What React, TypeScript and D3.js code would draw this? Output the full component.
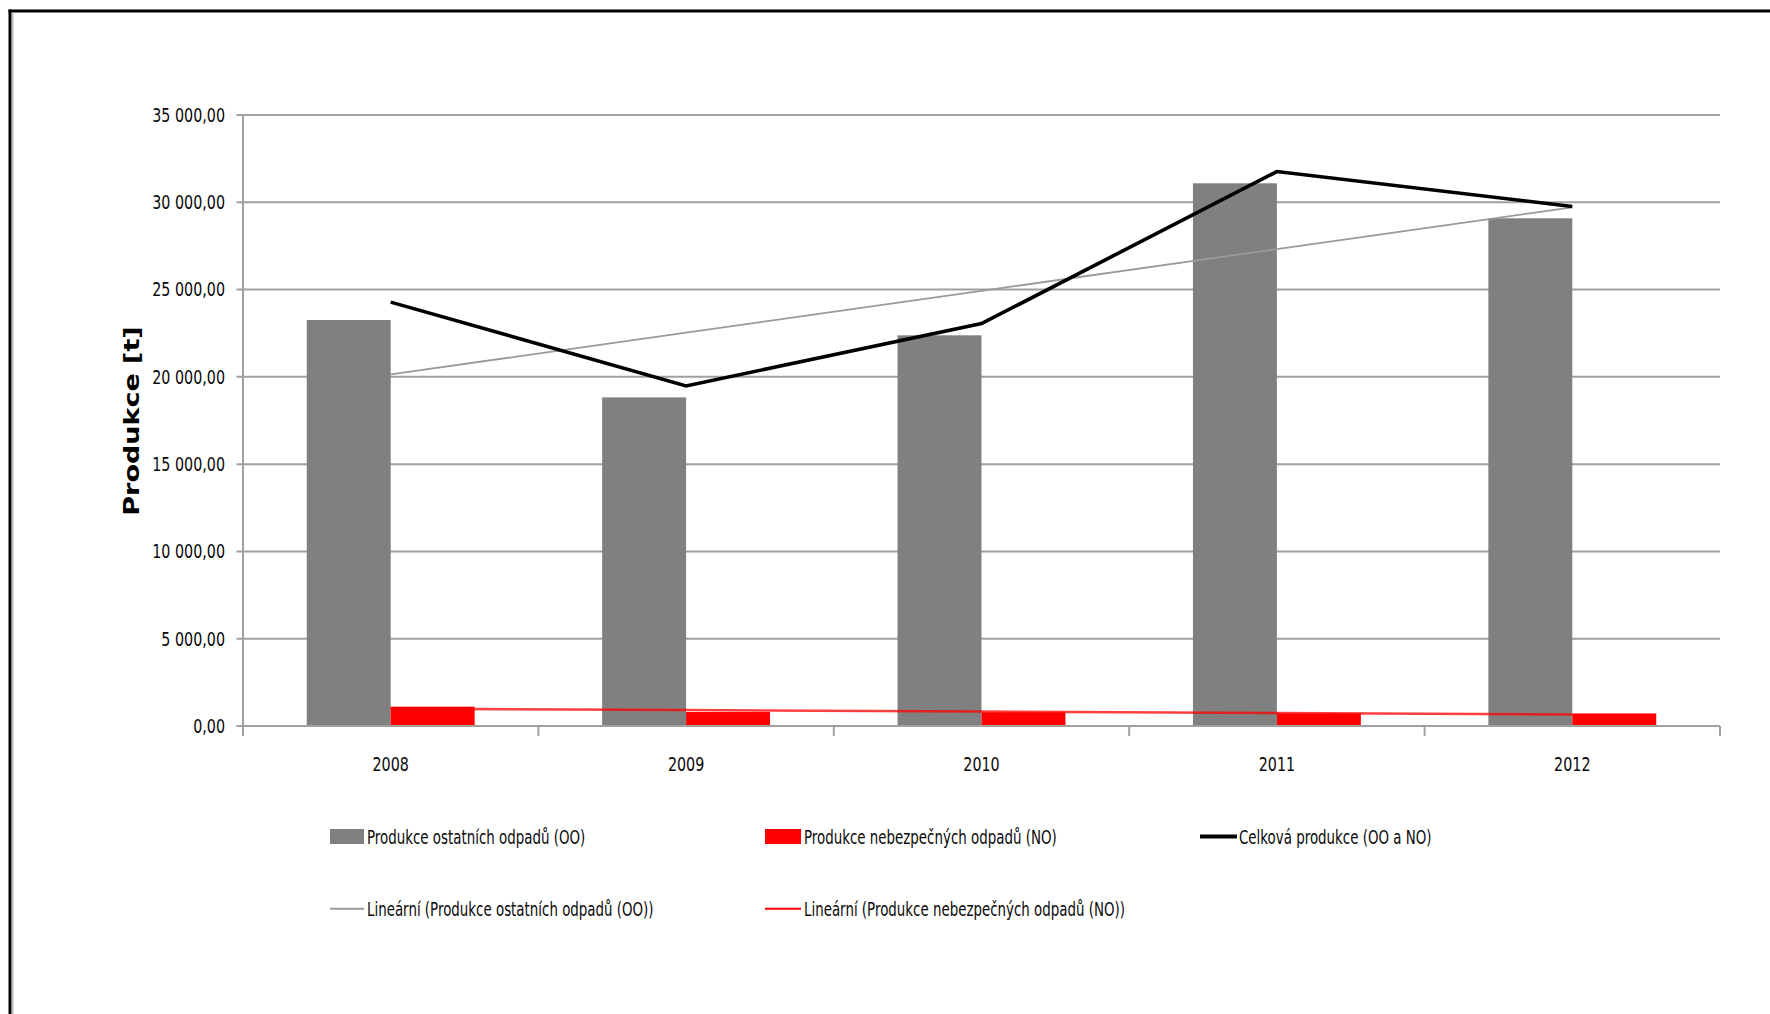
import React from "react";
import * as d3 from "d3";

const years = ["2008", "2009", "2010", "2011", "2012"];
const ostatni = [23257, 18823, 22380, 31088, 29083];
const nebezpecne = [1107, 800, 785, 725, 720];
const celkem = [24280, 19480, 23050, 31760, 29760];
const yTicks = [0, 5000, 10000, 15000, 20000, 25000, 30000, 35000];

const W = 1770;
const H = 1014;
const M = { left: 243, right: 1720, top: 115, bottom: 726 };
const SX_AXIS = 0.715;
const SX_LEG = 0.67;
const FS = 20;
const FONT = "'DejaVu Sans', Verdana, sans-serif";

function fmt(v: number) {
  const s = d3.format(",.2f")(v);
  return s.replace(/,/g, " ").replace(/\.(\d\d)$/, ",$1");
}

function linReg(vals: number[]) {
  const xs = vals.map((_, i) => i);
  const mx = d3.mean(xs) as number;
  const my = d3.mean(vals) as number;
  const num = d3.sum(xs.map((x, i) => (x - mx) * (vals[i] - my)));
  const den = d3.sum(xs.map((x) => (x - mx) * (x - mx)));
  const b = num / den;
  const a = my - b * mx;
  return xs.map((x) => a + b * x);
}

export default function App() {
  const x = d3.scaleBand<string>().domain(years).range([M.left, M.right]).padding(0);
  const y = d3.scaleLinear().domain([0, 35000]).range([M.bottom, M.top]);
  const bw = x.bandwidth();
  const barW = bw * 0.2842;
  const cx = (yr: string) => (x(yr) as number) + bw / 2;

  const line = d3
    .line<number>()
    .x((_, i) => cx(years[i]))
    .y((d) => y(d));

  const trendOO = linReg(ostatni);
  const trendNO = linReg(nebezpecne);

  const grid = "#a0a0a0";
  const boundaries = d3.range(years.length + 1).map((i) => M.left + i * bw);

  const legendText = (tx: number, ty: number, label: string) => (
    <text
      transform={`translate(${tx},${ty}) scale(${SX_LEG},1)`}
      fontFamily={FONT}
      fontSize={FS}
      dominantBaseline="central"
      fill="#0a0a0a"
    >
      {label}
    </text>
  );

  return (
    <svg
      width={W}
      height={H}
      style={{ position: "absolute", left: 0, top: 0, background: "#fff" }}
    >
      <rect x={0} y={0} width={W} height={H} fill="#fff" />
      {/* outer frame */}
      <line x1={8.5} y1={11} x2={W} y2={11} stroke="#000" strokeWidth={3} />
      <line x1={10} y1={9.5} x2={10} y2={H} stroke="#000" strokeWidth={3} />
      <line x1={12.7} y1={12.5} x2={12.7} y2={H} stroke="#bdbdbd" strokeWidth={1.6} />

      {/* gridlines */}
      {yTicks.map((t) => (
        <g key={t}>
          <line x1={M.left - 6.5} x2={M.right} y1={y(t)} y2={y(t)} stroke={grid} strokeWidth={2} />
          <text
            transform={`translate(225,${y(t)}) scale(${SX_AXIS},1)`}
            textAnchor="end"
            dominantBaseline="central"
            fontFamily={FONT}
            fontSize={FS}
            fill="#0a0a0a"
          >
            {fmt(t)}
          </text>
        </g>
      ))}
      {/* y axis */}
      <line x1={M.left} x2={M.left} y1={M.top} y2={M.bottom} stroke={grid} strokeWidth={2} />
      {/* x ticks */}
      {boundaries.map((bx, i) => (
        <line key={i} x1={bx} x2={bx} y1={M.bottom} y2={M.bottom + 10} stroke={grid} strokeWidth={2} />
      ))}

      {/* bars */}
      {years.map((yr, i) => (
        <g key={yr}>
          <rect
            x={cx(yr) - barW}
            y={y(ostatni[i])}
            width={barW}
            height={y(0) - y(ostatni[i])}
            fill="#808080"
          />
          <rect
            x={cx(yr)}
            y={y(nebezpecne[i])}
            width={barW}
            height={y(0) - y(nebezpecne[i])}
            fill="#ff0000"
          />
        </g>
      ))}
      {/* x axis line on top */}
      <line x1={M.left} x2={M.right} y1={M.bottom} y2={M.bottom} stroke={grid} strokeWidth={2} />

      {/* trendlines */}
      <path d={line(trendOO) || ""} fill="none" stroke="#9a9a9a" strokeWidth={1.8} />
      <path d={line(trendNO) || ""} fill="none" stroke="#ff0000" strokeOpacity={0.75} strokeWidth={2.6} />
      {/* total line */}
      <path d={line(celkem) || ""} fill="none" stroke="#000" strokeWidth={3.6} strokeLinejoin="miter" />

      {/* x labels */}
      {years.map((yr) => (
        <text
          key={yr}
          transform={`translate(${cx(yr)},764) scale(${SX_AXIS},1)`}
          textAnchor="middle"
          dominantBaseline="central"
          fontFamily={FONT}
          fontSize={FS}
          fill="#0a0a0a"
        >
          {yr}
        </text>
      ))}

      {/* y axis title */}
      <text
        transform={`translate(132,421) scale(0.78,1) rotate(-90)`}
        textAnchor="middle"
        dominantBaseline="central"
        fontFamily={FONT}
        fontWeight="bold"
        fontSize={27}
        fill="#000"
      >
        Produkce [t]
      </text>

      {/* legend */}
      <rect x={330} y={829} width={34} height={15} fill="#808080" />
      {legendText(367, 836.5, "Produkce ostatních odpadů (OO)")}
      <rect x={765} y={829} width={36} height={15} fill="#ff0000" />
      {legendText(804, 836.5, "Produkce nebezpečných odpadů (NO)")}
      <line x1={1200} x2={1237} y1={836.5} y2={836.5} stroke="#000" strokeWidth={4} />
      {legendText(1239, 836.5, "Celková produkce (OO a NO)")}

      <line x1={330} x2={364} y1={908.7} y2={908.7} stroke="#9a9a9a" strokeWidth={2} />
      {legendText(367, 908.7, "Lineární (Produkce ostatních odpadů (OO))")}
      <line x1={765} x2={801} y1={908.7} y2={908.7} stroke="#ff0000" strokeWidth={2} />
      {legendText(804, 908.7, "Lineární (Produkce nebezpečných odpadů (NO))")}
    </svg>
  );
}
